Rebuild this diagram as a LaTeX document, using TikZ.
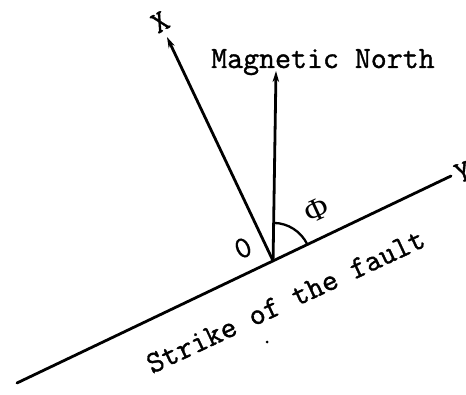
\documentclass[tikz,border=0pt]{standalone}
\usepackage{fontspec}
\setmonofont[FakeBold=1.2]{Latin Modern Mono}
\newfontfamily\phifont{Liberation Serif}
\usetikzlibrary{arrows.meta,calc}
\begin{document}
\begin{tikzpicture}[x=1pt,y=1pt,
  axis/.style={line width=2.8pt, line cap=round},
  arr/.style={axis, -{Stealth[length=11pt,width=6.5pt]}},
  lbl/.style={inner sep=0pt, font=\fontsize{31}{32}\selectfont\ttfamily}]
\useasboundingbox (0,0) rectangle (466,394);
\coordinate (S) at (17,11);
\coordinate (Yend) at (451,218);
\coordinate (O) at ($(S)!0.59!(Yend)$);
\coordinate (Xtip) at (167,357);
\coordinate (Ntip) at (276,323);
\draw[axis] (S) -- (Yend);
\draw[arr] (O) -- (Xtip);
\draw[arr] (O) -- (Ntip);
\draw[line width=2.3pt] (O) ++(25.5:38) arc[start angle=25.5, end angle=89, radius=38];
\node[lbl, anchor=base west] (mn) at (211,326) {Magnetic North};
\node[lbl, anchor=base west, rotate=25] (sf) at (152,20) {Strike of the fault};
\node[lbl, rotate=25] (o) at (243,146) {0};
\node[lbl, rotate=30] (xl) at (160,372) {X};
\node[lbl, rotate=20] (yl) at (463,222) {Y};
\node[inner sep=0pt, rotate=25, font=\fontsize{32}{34}\selectfont\phifont] (phi) at (317,184) {Φ};
\fill (267,52) circle (1.5);
\end{tikzpicture}
\end{document}
